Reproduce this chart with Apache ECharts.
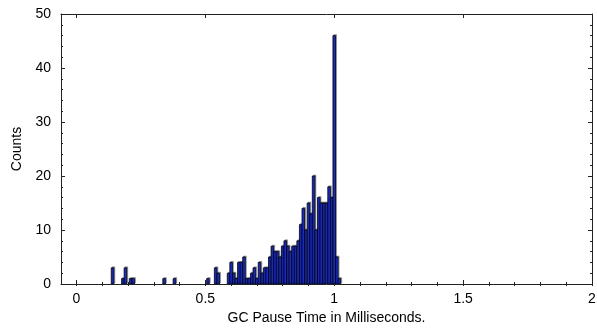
<!DOCTYPE html>
<html><head><meta charset="utf-8">
<script src="https://cdn.jsdelivr.net/npm/echarts@6/dist/echarts.min.js"></script>
<style>html,body{margin:0;padding:0;background:#fff}#c{width:597px;height:329px}</style>
</head><body><div id="c"></div>
<script>
// Histogram data: bin centers (ms) and counts
const binCenters = [0.14,0.18,0.19,0.21,0.22,0.34,0.38,0.51,0.54,0.55,
  0.59,0.60,0.61,0.62,0.63,0.64,0.65,0.66,0.67,0.68,0.69,0.70,0.71,0.72,0.73,0.74,
  0.75,0.76,0.77,0.78,0.79,0.80,0.81,0.82,0.83,0.84,0.85,0.86,0.87,0.88,0.89,
  0.90,0.91,0.92,0.93,0.94,0.95,0.96,0.97,0.98,0.99,1.00,1.01,1.02];
const counts = [3,1,3,1,1,1,1,1,3,2,
  2,4,2,1,4,4,5,1,1,2,3,1,4,2,3,3,
  5,7,6,6,5,7,8,7,6,7,7,8,11,14,10,
  15,13,20,10,16,15,15,15,18,16,46,5,1];
const binWidth = 0.01;
const xMajorTicks = [0,0.5,1,1.5,2];
const xTickLabels = ['0','0.5','1','1.5','2'];
const xMinorTicks = [0,0.1,0.2,0.3,0.4,0.5,0.6,0.7,0.8,0.9,1.0,1.1,1.2,1.3,1.4,1.5,1.6,1.7,1.8,1.9,2.0];
const yTickLabels = ['0','10','20','30','40','50'];
const xTitle = 'GC Pause Time in Milliseconds.';
const yTitle = 'Counts';

const chart = echarts.init(document.getElementById('c'), null, {renderer:'canvas'});
const FONT = 'Liberation Sans, Arial, Helvetica, sans-serif';
const lineCol = '#222';
const xBase = {type:'value', min:-0.06, max:2.0, gridIndex:0, splitLine:{show:false}};
const option = {
  animation:false,
  backgroundColor:'#fff',
  grid:{left:61, right:5, top:14, bottom:45, containLabel:false, outerBoundsMode:'none'},
  xAxis:[
    Object.assign({}, xBase, {position:'bottom',
      axisLine:{show:true, onZero:false, lineStyle:{color:lineCol, width:1}},
      axisTick:{show:true, inside:true, length:4, customValues:xMajorTicks, lineStyle:{color:lineCol}},
      axisLabel:{show:true, customValues:xMajorTicks, margin:8, color:'#000', fontSize:14, fontFamily:FONT,
        formatter:v=>{const i=xMajorTicks.findIndex(t=>Math.abs(t-v)<1e-9);return i>=0?xTickLabels[i]:'';}},
      name:xTitle, nameLocation:'middle', nameGap:26,
      nameTextStyle:{color:'#000', fontSize:14, fontFamily:FONT}}),
    Object.assign({}, xBase, {position:'bottom',
      axisLine:{show:false}, axisLabel:{show:false},
      axisTick:{show:true, inside:true, length:2, customValues:xMinorTicks, lineStyle:{color:lineCol}}}),
    Object.assign({}, xBase, {position:'top',
      axisLine:{show:true, onZero:false, lineStyle:{color:lineCol, width:1}}, axisLabel:{show:false},
      axisTick:{show:true, inside:true, length:4, customValues:xMajorTicks, lineStyle:{color:lineCol}}}),
    Object.assign({}, xBase, {position:'top',
      axisLine:{show:false}, axisLabel:{show:false},
      axisTick:{show:true, inside:true, length:2, customValues:xMinorTicks, lineStyle:{color:lineCol}}})
  ],
  yAxis:[
    {type:'value', min:0, max:50, interval:10, position:'left',
      axisLine:{show:true, onZero:false, lineStyle:{color:lineCol, width:1}},
      axisTick:{show:true, inside:true, length:4, lineStyle:{color:lineCol}},
      minorTick:{show:true, splitNumber:5, length:2, lineStyle:{color:lineCol}},
      splitLine:{show:false}, minorSplitLine:{show:false},
      axisLabel:{show:true, margin:10, color:'#000', fontSize:14, fontFamily:FONT,
        formatter:v=>{const i=Math.round(v/10);return yTickLabels[i]!==undefined?yTickLabels[i]:'';}},
      name:yTitle, nameLocation:'middle', nameGap:36, nameRotate:90,
      nameTextStyle:{color:'#000', fontSize:14, fontFamily:FONT}},
    {type:'value', min:0, max:50, interval:10, position:'right',
      axisLine:{show:true, onZero:false, lineStyle:{color:lineCol, width:1}},
      axisTick:{show:true, inside:true, length:4, lineStyle:{color:lineCol}},
      minorTick:{show:true, splitNumber:5, length:2, lineStyle:{color:lineCol}},
      splitLine:{show:false}, axisLabel:{show:false}}
  ],
  series:[{
    type:'custom', xAxisIndex:0, yAxisIndex:0, clip:true,
    data: binCenters.map((x,i)=>[x, counts[i]]),
    encode:{x:0, y:1},
    renderItem:function(params, api){
      const x = api.value(0), y = api.value(1);
      const p0 = api.coord([x - binWidth/2, y]);
      const p1 = api.coord([x + binWidth/2, 0]);
      return {type:'rect',
        shape:{x:p0[0], y:p0[1], width:p1[0]-p0[0], height:p1[1]-p0[1]},
        style:{fill:'#1e32e6', stroke:'#000', lineWidth:0.8,
          shadowColor:'rgba(0,0,0,0.35)', shadowOffsetX:1, shadowOffsetY:-1, shadowBlur:0}};
    }
  }]
};
chart.setOption(option);
</script>
</body></html>
